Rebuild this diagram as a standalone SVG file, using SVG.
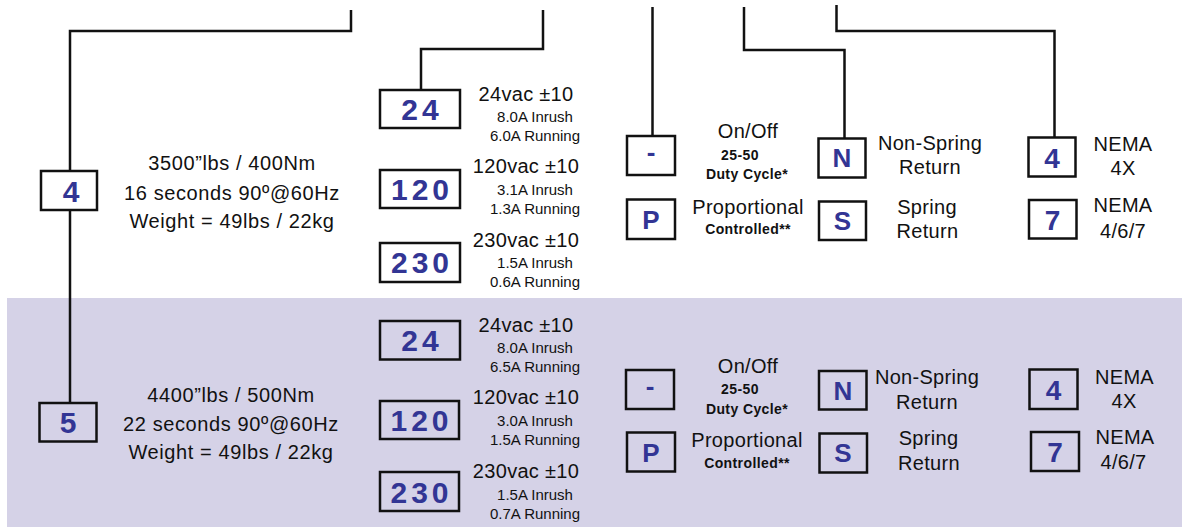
<svg xmlns="http://www.w3.org/2000/svg" width="1182" height="527" viewBox="0 0 1182 527">
<style>
.box{fill:none;stroke:#111;stroke-width:2.5}
.conn{fill:none;stroke:#111;stroke-width:2.5}
.code{font-family:"Liberation Sans",Arial,sans-serif;font-weight:bold;fill:#323594;text-anchor:middle}
.c30{font-size:30px;letter-spacing:4px}
.c26{font-size:26px}
.c28{font-size:28px}
.d{font-family:"Liberation Sans",Arial,sans-serif;font-size:20px;fill:#111;text-anchor:middle;letter-spacing:0.3px}
.dl{letter-spacing:0.6px}
.s{font-family:"Liberation Sans",Arial,sans-serif;font-size:15px;fill:#111;text-anchor:middle}
.b{font-family:"Liberation Sans",Arial,sans-serif;font-size:14px;font-weight:bold;fill:#111;text-anchor:middle;letter-spacing:0.4px}
</style>
<rect x="7" y="298" width="1175" height="229" fill="#d5d2e7"/>
<g id="connectors">
<path class="conn" d="M351,10 V31 H70 V171"/>
<path class="conn" d="M70,210 V403"/>
<path class="conn" d="M543,10 V49 H421 V90"/>
<path class="conn" d="M652.5,7 V136"/>
<path class="conn" d="M744,7 V50 H844.5 V138.5"/>
<path class="conn" d="M836.5,5 V31 H1054.5 V137.5"/>
</g>
<g id="size4">
<rect class="box" x="41" y="171" width="56" height="39"/>
<text class="code c30" x="71" y="201.5" style="letter-spacing:0">4</text>
<text class="d dl" x="232" y="170">3500”lbs / 400Nm</text>
<text class="d dl" x="232" y="200">16 seconds 90º@60Hz</text>
<text class="d dl" x="232" y="227.5">Weight = 49lbs / 22kg</text>
</g>
<g id="v24a">
<rect class="box" x="380" y="90" width="80" height="38"/>
<text class="code c30" x="422" y="120">24</text>
<text class="d" x="526" y="100.5">24vac ±10</text>
<text class="s" x="535" y="121.5">8.0A Inrush</text>
<text class="s" x="535" y="141">6.0A Running</text>
</g>
<g id="v120a">
<rect class="box" x="380" y="170" width="80" height="38"/>
<text class="code c30" x="422" y="200">120</text>
<text class="d" x="526" y="173">120vac ±10</text>
<text class="s" x="535" y="195">3.1A Inrush</text>
<text class="s" x="535" y="214">1.3A Running</text>
</g>
<g id="v230a">
<rect class="box" x="380" y="243" width="80" height="39"/>
<text class="code c30" x="422" y="273">230</text>
<text class="d" x="526" y="246.5">230vac ±10</text>
<text class="s" x="535" y="268">1.5A Inrush</text>
<text class="s" x="535" y="287">0.6A Running</text>
</g>
<g id="onoffA">
<rect class="box" x="627" y="136" width="48" height="39"/>
<text class="code c26" x="651" y="161">-</text>
<text class="d" x="748" y="137.5">On/Off</text>
<text class="b" x="740" y="160">25-50</text>
<text class="b" x="747" y="179">Duty Cycle*</text>
</g>
<g id="propA">
<rect class="box" x="627" y="199.5" width="48" height="39.5"/>
<text class="code c26" x="651" y="228.5">P</text>
<text class="d" x="748" y="213.5">Proportional</text>
<text class="b" x="748" y="234">Controlled**</text>
</g>
<g id="nsA">
<rect class="box" x="818.5" y="138.5" width="47" height="39"/>
<text class="code c26" x="842" y="167">N</text>
<text class="d" x="930" y="150">Non-Spring</text>
<text class="d" x="930" y="174">Return</text>
</g>
<g id="srA">
<rect class="box" x="819" y="201.5" width="47" height="38.5"/>
<text class="code c26" x="842.5" y="230">S</text>
<text class="d" x="927" y="213.5">Spring</text>
<text class="d" x="927.5" y="237.5">Return</text>
</g>
<g id="nema4A">
<rect class="box" x="1028.5" y="137.5" width="47" height="39"/>
<text class="code c28" x="1052" y="167.5">4</text>
<text class="d" x="1123" y="151">NEMA</text>
<text class="d" x="1123" y="175">4X</text>
</g>
<g id="nema7A">
<rect class="box" x="1029" y="200" width="47.5" height="38.5"/>
<text class="code c28" x="1052.5" y="229.5">7</text>
<text class="d" x="1123" y="211.5">NEMA</text>
<text class="d" x="1123" y="237.5">4/6/7</text>
</g>
<g id="size5">
<rect class="box" x="39.5" y="403" width="57" height="38.5"/>
<text class="code c30" x="68" y="433" style="letter-spacing:0">5</text>
<text class="d dl" x="231" y="401.5">4400”lbs / 500Nm</text>
<text class="d dl" x="231" y="430.5">22 seconds 90º@60Hz</text>
<text class="d dl" x="231" y="459">Weight = 49lbs / 22kg</text>
</g>
<g id="v24b">
<rect class="box" x="380" y="321" width="80" height="38.5"/>
<text class="code c30" x="422" y="351">24</text>
<text class="d" x="526" y="331.5">24vac ±10</text>
<text class="s" x="535" y="352.5">8.0A Inrush</text>
<text class="s" x="535" y="372">6.5A Running</text>
</g>
<g id="v120b">
<rect class="box" x="380" y="401" width="79" height="38"/>
<text class="code c30" x="421.5" y="431">120</text>
<text class="d" x="526" y="404">120vac ±10</text>
<text class="s" x="535" y="426">3.0A Inrush</text>
<text class="s" x="535" y="445">1.5A Running</text>
</g>
<g id="v230b">
<rect class="box" x="380" y="472" width="79" height="39"/>
<text class="code c30" x="421.5" y="502.5">230</text>
<text class="d" x="526" y="478">230vac ±10</text>
<text class="s" x="535" y="500">1.5A Inrush</text>
<text class="s" x="535" y="519">0.7A Running</text>
</g>
<g id="onoffB">
<rect class="box" x="626" y="370" width="48" height="39"/>
<text class="code c26" x="650" y="395">-</text>
<text class="d" x="748" y="372.5">On/Off</text>
<text class="b" x="740" y="393.5">25-50</text>
<text class="b" x="747" y="414">Duty Cycle*</text>
</g>
<g id="propB">
<rect class="box" x="627" y="432.5" width="48" height="39"/>
<text class="code c26" x="651" y="461.5">P</text>
<text class="d" x="747" y="446.5">Proportional</text>
<text class="b" x="747" y="467.5">Controlled**</text>
</g>
<g id="nsB">
<rect class="box" x="819" y="371" width="47.5" height="38.5"/>
<text class="code c26" x="843" y="399.5">N</text>
<text class="d" x="927" y="384">Non-Spring</text>
<text class="d" x="927" y="409">Return</text>
</g>
<g id="srB">
<rect class="box" x="819.5" y="433.5" width="47.5" height="39"/>
<text class="code c26" x="843" y="462">S</text>
<text class="d" x="928.5" y="445">Spring</text>
<text class="d" x="929" y="470">Return</text>
</g>
<g id="nema4B">
<rect class="box" x="1029.5" y="369.5" width="48" height="39.5"/>
<text class="code c28" x="1053.5" y="399.5">4</text>
<text class="d" x="1124.5" y="383.5">NEMA</text>
<text class="d" x="1124" y="407.5">4X</text>
</g>
<g id="nema7B">
<rect class="box" x="1031" y="432" width="48" height="39"/>
<text class="code c28" x="1055" y="461.5">7</text>
<text class="d" x="1125" y="443.5">NEMA</text>
<text class="d" x="1123.5" y="468.5">4/6/7</text>
</g>
</svg>
